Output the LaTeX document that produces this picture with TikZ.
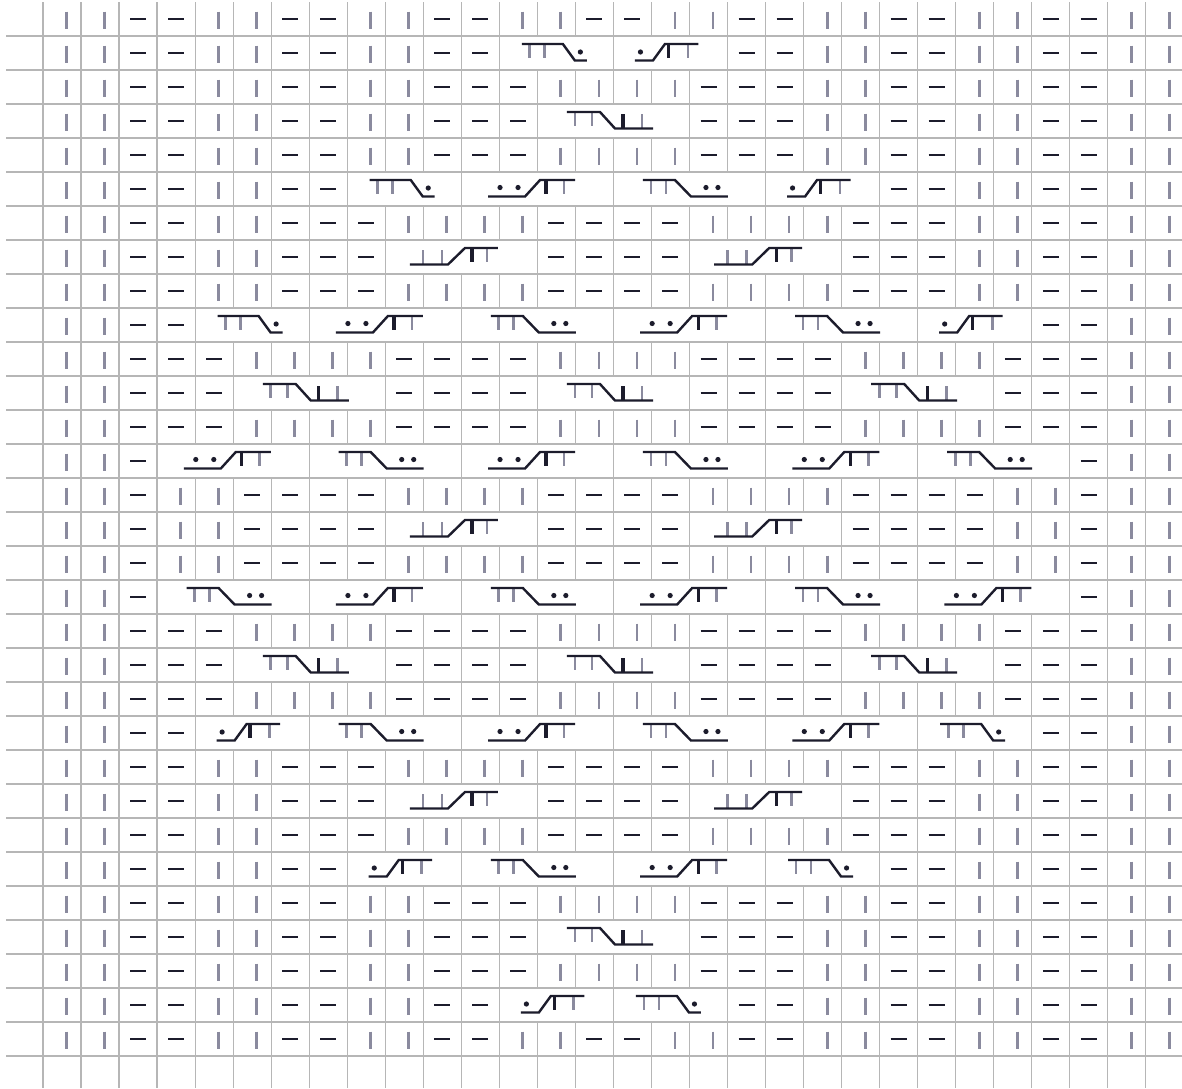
\documentclass[tikz,border=0pt]{standalone}
\definecolor{gridc}{RGB}{182,182,182}
\definecolor{knitc}{RGB}{138,138,158}
\definecolor{inkc}{RGB}{28,28,44}
\tikzset{
  gridline/.style={draw=gridc, line width=1.2pt},
  knitst/.style={draw=knitc, line width=2.8pt},
  purlst/.style={draw=inkc, line width=2.6pt},
  cablebar/.style={draw=inkc, line width=2.4pt},
  blackst/.style={draw=inkc, line width=3.3pt},
  greyst/.style={draw=knitc, line width=2.8pt},
  dotst/.style={fill=inkc},
}
% single cells
\newcommand\cellK{\draw[knitst] (23.5,9.5) -- (23.5,26.5);}
\newcommand\cellP{\draw[purlst] (11,17) -- (27,17);}
\newcommand\cellx{}
% 3-stitch cables
\newcommand\cellA{%
  \draw[greyst] (30.5,8) -- (30.5,22) (45.5,8) -- (45.5,22);
  \draw[cablebar] (22.5,8) -- (63.5,8) -- (75.5,24.5) -- (87.5,24.5);
  \fill[dotst] (81,16) circle[radius=2.6pt];}
\newcommand\cellB{%
  \draw[blackst] (55,8) -- (55,22);
  \draw[greyst] (74.5,8) -- (74.5,22);
  \draw[cablebar] (21.5,24.5) -- (39.5,24.5) -- (51.5,8) -- (85,8);
  \fill[dotst] (27,16) circle[radius=2.6pt];}
% 4-stitch crosses over purls
\newcommand\cellC{%
  \draw[greyst] (37.5,8) -- (37.5,22) (52.5,8) -- (52.5,22);
  \draw[cablebar] (29.5,8) -- (61.5,8) -- (77.5,24.5) -- (114.5,24.5);
  \fill[dotst] (92.5,15.5) circle[radius=2.6pt] (104.5,15.5) circle[radius=2.6pt];}
\newcommand\cellD{%
  \draw[blackst] (84.7,8) -- (84.7,22);
  \draw[greyst] (102.7,8) -- (102.7,22);
  \draw[cablebar] (26.7,24.5) -- (63.7,24.5) -- (78.7,8) -- (113.7,8);
  \fill[dotst] (38.7,15.5) circle[radius=2.6pt] (56.7,15.5) circle[radius=2.6pt];}
% 2/2 cables
\newcommand\cellE{%
  \draw[greyst] (37.6,8) -- (37.6,22) (54.6,8) -- (54.6,22);
  \draw[blackst] (85.6,10) -- (85.6,24);
  \draw[greyst] (104.6,10) -- (104.6,24.5);
  \draw[cablebar] (29.6,8) -- (62.6,8) -- (77.6,24.5) -- (115.6,24.5);}
\newcommand\cellF{%
  \draw[greyst] (37.7,10) -- (37.7,24.5) (56.7,10) -- (56.7,24.5);
  \draw[blackst] (86.7,8) -- (86.7,22);
  \draw[greyst] (101.7,8) -- (101.7,22);
  \draw[cablebar] (24.7,24.5) -- (62.7,24.5) -- (79.7,8) -- (112.7,8);}
% one chart row
\newcommand\chartrow[2]{\def\rownum{#1}\expandafter\dochartrow\expandafter{#2}}
\newcommand\dochartrow[1]{%
  \pgfmathsetmacro\rowtop{36+34*(\rownum-2)}%
  \foreach \t [count=\c] in {#1} {%
    \pgfmathsetmacro\xl{43+38.03*(\c-1)}%
    \begin{scope}[shift={(\xl,\rowtop)}]
      \csname cell\t\endcsname
      \if x\t\else \draw[gridline] (0,0) -- (0,34);\fi
    \end{scope}
  }%
}
\def\rstd{K,K,P,P,K,K,P,P,K,K,P,P,K,K,P,P,K,K,P,P,K,K,P,P,K,K,P,P,K,K}
\def\rtwo{K,K,P,P,K,K,P,P,K,K,P,P,A,x,x,B,x,x,P,P,K,K,P,P,K,K,P,P,K,K}
\def\rthree{K,K,P,P,K,K,P,P,K,K,P,P,P,K,K,K,K,P,P,P,K,K,P,P,K,K,P,P,K,K}
\def\rfour{K,K,P,P,K,K,P,P,K,K,P,P,P,E,x,x,x,P,P,P,K,K,P,P,K,K,P,P,K,K}
\def\rsix{K,K,P,P,K,K,P,P,A,x,x,D,x,x,x,C,x,x,x,B,x,x,P,P,K,K,P,P,K,K}
\def\rseven{K,K,P,P,K,K,P,P,P,K,K,K,K,P,P,P,P,K,K,K,K,P,P,P,K,K,P,P,K,K}
\def\reight{K,K,P,P,K,K,P,P,P,F,x,x,x,P,P,P,P,F,x,x,x,P,P,P,K,K,P,P,K,K}
\def\rten{K,K,P,P,A,x,x,D,x,x,x,C,x,x,x,D,x,x,x,C,x,x,x,B,x,x,P,P,K,K}
\def\releven{K,K,P,P,P,K,K,K,K,P,P,P,P,K,K,K,K,P,P,P,P,K,K,K,K,P,P,P,K,K}
\def\rtwelve{K,K,P,P,P,E,x,x,x,P,P,P,P,E,x,x,x,P,P,P,P,E,x,x,x,P,P,P,K,K}
\def\rfourteen{K,K,P,D,x,x,x,C,x,x,x,D,x,x,x,C,x,x,x,D,x,x,x,C,x,x,x,P,K,K}
\def\rfifteen{K,K,P,K,K,P,P,P,P,K,K,K,K,P,P,P,P,K,K,K,K,P,P,P,P,K,K,P,K,K}
\def\rsixteen{K,K,P,K,K,P,P,P,P,F,x,x,x,P,P,P,P,F,x,x,x,P,P,P,P,K,K,P,K,K}
\def\reighteen{K,K,P,C,x,x,x,D,x,x,x,C,x,x,x,D,x,x,x,C,x,x,x,D,x,x,x,P,K,K}
\def\rtwentytwo{K,K,P,P,B,x,x,C,x,x,x,D,x,x,x,C,x,x,x,D,x,x,x,A,x,x,P,P,K,K}
\def\rtwentysix{K,K,P,P,K,K,P,P,B,x,x,C,x,x,x,D,x,x,x,A,x,x,P,P,K,K,P,P,K,K}
\def\rthirty{K,K,P,P,K,K,P,P,K,K,P,P,B,x,x,A,x,x,P,P,K,K,P,P,K,K,P,P,K,K}
\begin{document}
\begin{tikzpicture}[x=1pt,y=-1pt]
  \useasboundingbox (0,0) rectangle (1182,1088);
  \fill[white] (0,0) rectangle (1182,1088);
  \clip (0,0) rectangle (1182,1088);
  % horizontal grid lines
  \foreach \k in {0,...,30} {\draw[gridline] (6,36+34*\k) -- (1182,36+34*\k);}
  % vertical lines of the blank bottom row
  \foreach \k in {0,...,29} {\draw[gridline] (43+38.03*\k,1056) -- (43+38.03*\k,1088);}
  % chart rows
  \chartrow{1}{\rstd}
  \chartrow{2}{\rtwo}
  \chartrow{3}{\rthree}
  \chartrow{4}{\rfour}
  \chartrow{5}{\rthree}
  \chartrow{6}{\rsix}
  \chartrow{7}{\rseven}
  \chartrow{8}{\reight}
  \chartrow{9}{\rseven}
  \chartrow{10}{\rten}
  \chartrow{11}{\releven}
  \chartrow{12}{\rtwelve}
  \chartrow{13}{\releven}
  \chartrow{14}{\rfourteen}
  \chartrow{15}{\rfifteen}
  \chartrow{16}{\rsixteen}
  \chartrow{17}{\rfifteen}
  \chartrow{18}{\reighteen}
  \chartrow{19}{\releven}
  \chartrow{20}{\rtwelve}
  \chartrow{21}{\releven}
  \chartrow{22}{\rtwentytwo}
  \chartrow{23}{\rseven}
  \chartrow{24}{\reight}
  \chartrow{25}{\rseven}
  \chartrow{26}{\rtwentysix}
  \chartrow{27}{\rthree}
  \chartrow{28}{\rfour}
  \chartrow{29}{\rthree}
  \chartrow{30}{\rthirty}
  \chartrow{31}{\rstd}
\end{tikzpicture}
\end{document}
